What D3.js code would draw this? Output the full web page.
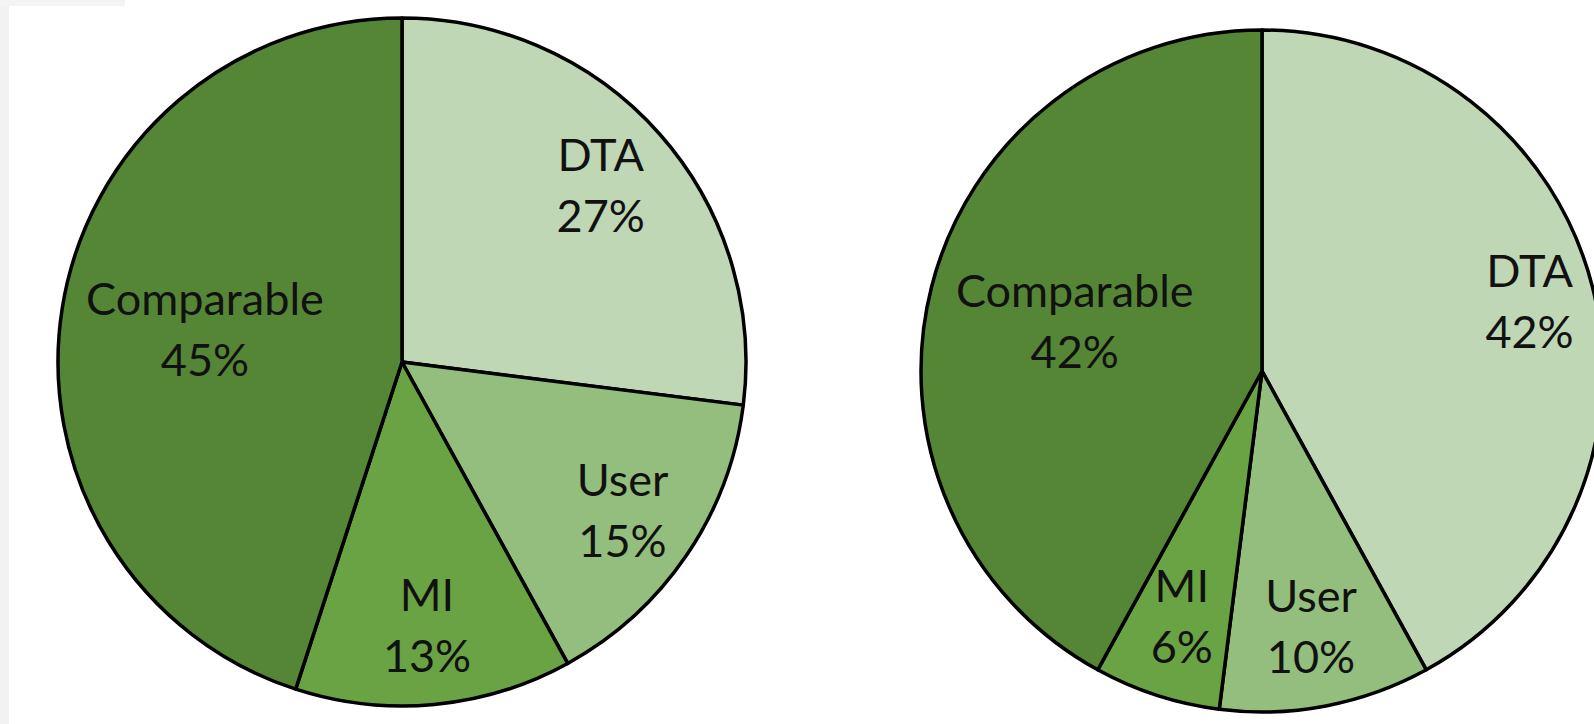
<!DOCTYPE html>
<html>
<head>
<meta charset="utf-8">
<script src="https://cdn.jsdelivr.net/npm/d3@7"></script>
<style>
  html, body { margin: 0; padding: 0; background: #ffffff; }
  svg { display: block; }
</style>
</head>
<body>
<svg id="chart" width="1594" height="724"></svg>
<script>
// ---- data ----
const categories = ["DTA", "User", "MI", "Comparable"];
const leftValues = [27, 15, 13, 45];
const rightValues = [42, 10, 6, 42];
const colors = ["#bfd7b4", "#94be7d", "#6aa343", "#558636"];

// ---- layout ----
const W = 1594, H = 724;
const svg = d3.select("#chart");

// window chrome strips
svg.append("rect").attr("x", 0).attr("y", 0).attr("width", 9).attr("height", H).attr("fill", "#f2f2f2");
svg.append("rect").attr("x", 0).attr("y", 0).attr("width", 125).attr("height", 6).attr("fill", "#f4f4f4");

const pies = [
  { values: leftValues, cx: 402, cy: 362, r: 344, labelFrac: [0.77, 0.775, 0.773, 0.58] },
  { values: rightValues, cx: 1262, cy: 371, r: 341, labelFrac: [0.81, 0.767, 0.761, 0.567] }
];

const pieGen = d3.pie().sort(null).value(d => d.value).startAngle(0).endAngle(2 * Math.PI);
const FONT = 45;

pies.forEach(p => {
  const data = categories.map((c, i) => ({ name: c, value: p.values[i], idx: i }));
  const arcs = pieGen(data);
  const arc = d3.arc().innerRadius(0).outerRadius(p.r);
  const g = svg.append("g").attr("transform", `translate(${p.cx},${p.cy})`);

  g.selectAll("path.slice")
    .data(arcs)
    .join("path")
    .attr("class", "slice")
    .attr("d", arc)
    .attr("fill", d => colors[d.data.idx])
    .attr("stroke", "#000")
    .attr("stroke-width", 3.5)
    .attr("stroke-linejoin", "round");

  const labels = g.selectAll("g.lbl")
    .data(arcs)
    .join("g")
    .attr("class", "lbl")
    .attr("transform", d => {
      const lr = p.r * p.labelFrac[d.data.idx];
      const la = d3.arc().innerRadius(lr).outerRadius(lr);
      const [x, y] = la.centroid(d);
      return `translate(${x},${y})`;
    });

  labels.append("text")
    .attr("y", -15.5)
    .attr("text-anchor", "middle")
    .attr("font-family", "Lato, 'Open Sans', sans-serif")
    .attr("font-size", FONT)
    .attr("fill", "#111")
    .text(d => d.data.name);

  labels.append("text")
    .attr("y", 45.5)
    .attr("text-anchor", "middle")
    .attr("font-family", "Lato, 'Open Sans', sans-serif")
    .attr("font-size", FONT)
    .attr("fill", "#111")
    .text(d => d.data.value + "%");
});
</script>
</body>
</html>
